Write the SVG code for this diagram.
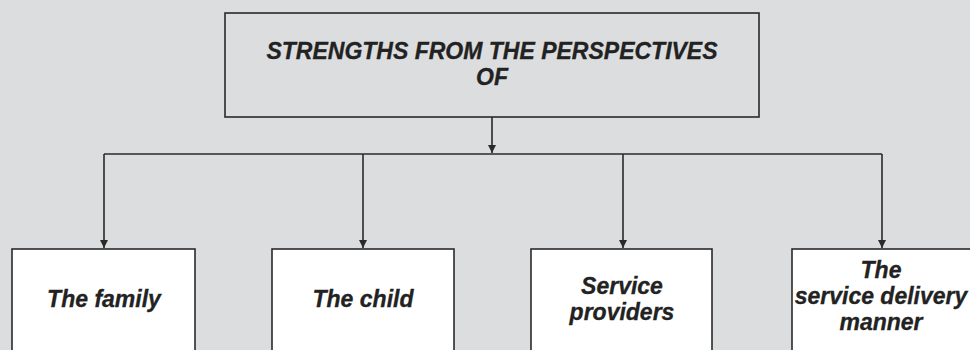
<svg xmlns="http://www.w3.org/2000/svg" width="970" height="350" viewBox="0 0 970 350">
<defs>
<style>
.bg{fill:#dcdddf}
.box{stroke:#2a2a2a;stroke-width:1.6}
.top{fill:#dcdddf}
.leaf{fill:#ffffff}
.lbl{font-family:"Liberation Sans",Arial,sans-serif;font-weight:bold;font-style:italic;font-size:23px;fill:#222;stroke:#222;stroke-width:0.3;text-anchor:middle}
.conn{stroke:#2a2a2a;stroke-width:1.6;fill:none}
</style>
<marker id="arr" viewBox="0 0 10 10" refX="10" refY="5" markerWidth="10" markerHeight="8" markerUnits="userSpaceOnUse" orient="auto">
<path d="M0,0 L10,5 L0,10 z" fill="#2a2a2a"/>
</marker>
</defs>
<rect class="bg" x="0" y="0" width="970" height="350"/>
<g id="connectors">
<line class="conn" x1="492" y1="117" x2="492" y2="153" marker-end="url(#arr)"/>
<polyline class="conn" points="104,154 882,154"/>
<line class="conn" x1="104" y1="154" x2="104" y2="248" marker-end="url(#arr)"/>
<line class="conn" x1="363" y1="154" x2="363" y2="248" marker-end="url(#arr)"/>
<line class="conn" x1="623" y1="154" x2="623" y2="248" marker-end="url(#arr)"/>
<line class="conn" x1="882" y1="154" x2="882" y2="248" marker-end="url(#arr)"/>
</g>
<g id="root">
<rect class="box top" x="225" y="13" width="534" height="104"/>
<text class="lbl" x="492" y="59">STRENGTHS FROM THE PERSPECTIVES</text>
<text class="lbl" x="492" y="85">OF</text>
</g>
<g id="family">
<rect class="box leaf" x="12" y="249" width="183" height="120"/>
<text class="lbl" x="104" y="307">The family</text>
</g>
<g id="child">
<rect class="box leaf" x="272" y="249" width="182" height="120"/>
<text class="lbl" x="363" y="307">The child</text>
</g>
<g id="providers">
<rect class="box leaf" x="531" y="249" width="181" height="120"/>
<text class="lbl" x="622" y="294">Service</text>
<text class="lbl" x="622" y="320">providers</text>
</g>
<g id="delivery">
<rect class="box leaf" x="792" y="249" width="185" height="120"/>
<text class="lbl" x="881" y="278">The</text>
<text class="lbl" x="881" y="304">service delivery</text>
<text class="lbl" x="881" y="330">manner</text>
</g>
</svg>
